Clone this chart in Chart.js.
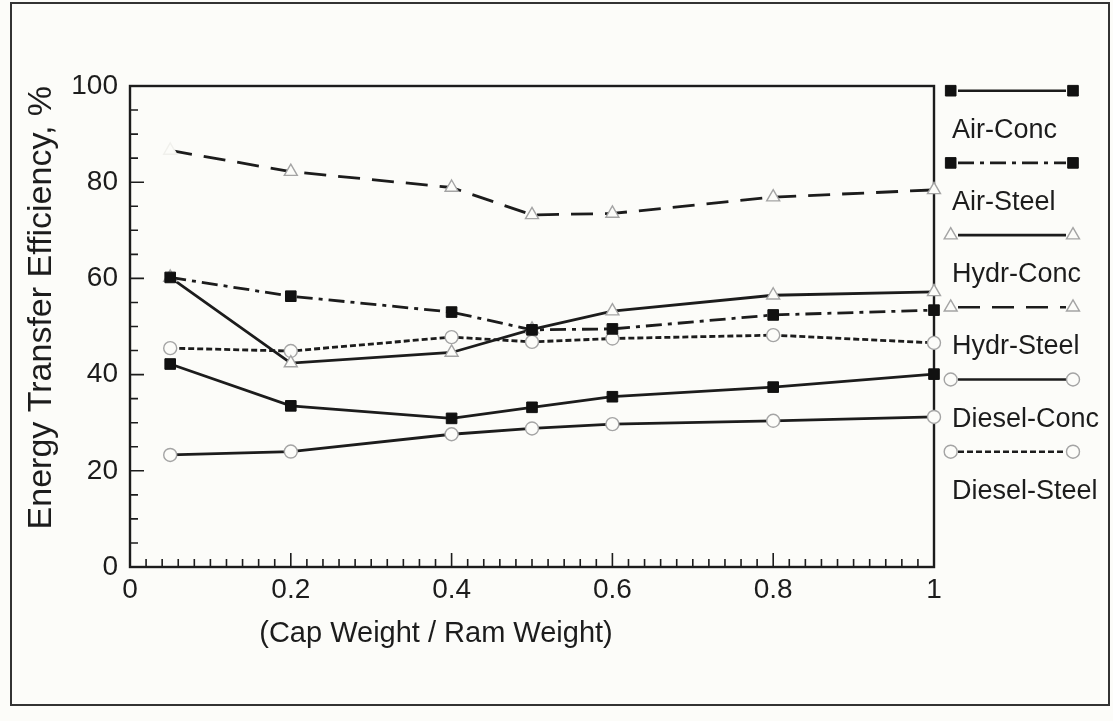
<!DOCTYPE html>
<html>
<head>
<meta charset="utf-8">
<script src="https://cdn.jsdelivr.net/npm/chart.js@4.4.1/dist/chart.umd.min.js"></script>
<style>
  html, body { margin: 0; padding: 0; background: #fcfcf9; }
  #wrap { position: relative; width: 1113px; height: 721px; }
  #frame { position: absolute; left: 10px; top: 2px; width: 1100px; height: 704px; border: 2px solid #333; box-sizing: border-box; pointer-events: none; }
</style>
</head>
<body>
<div id="wrap">
  <canvas id="effChart" width="1113" height="721"></canvas>
  <div id="frame"></div>
</div>
<script>
// cap weight / ram weight
const capRatio = [0.05, 0.2, 0.4, 0.5, 0.6, 0.8, 1.0];

// energy transfer efficiency, %
const airConc = [42.2, 33.5, 30.9, 33.2, 35.4, 37.4, 40.1];
const airSteel = [60.2, 56.3, 53.0, 49.3, 49.5, 52.4, 53.4];
const hydrConc = [60.2, 42.4, 44.6, 49.4, 53.2, 56.5, 57.2];
const hydrSteel = [86.6, 82.2, 78.9, 73.2, 73.5, 76.9, 78.4];
const dieselConc = [23.3, 24.0, 27.6, 28.8, 29.7, 30.4, 31.2];
const dieselSteel = [45.5, 44.9, 47.8, 46.8, 47.5, 48.2, 46.6];

const xTicks = [0, 0.2, 0.4, 0.6, 0.8, 1];
const yTicks = [0, 20, 40, 60, 80, 100];

const INK = '#1c1c1c';
const GREY = '#a4a4a4';
const BG = '#fcfcf9';
const FONT = '"Liberation Sans", Arial, sans-serif';

function toPoints(values) {
    return values.map((v, i) => ({ x: capRatio[i], y: v }));
}

function makeSeries(label, values, dash, marker) {
    const hollow = marker !== 'rect';
    return {
        label: label,
        data: toPoints(values),
        borderColor: INK,
        borderWidth: 2.8,
        borderDash: dash,
        tension: 0,
        clip: false,
        pointStyle: marker,
        pointRadius: marker === 'circle' ? 6.5 : 7.5,
        pointBorderWidth: hollow ? 1.4 : 1,
        pointBackgroundColor: hollow ? BG : '#111',
        pointBorderColor: hollow ? GREY : '#111',
        markerColor: hollow ? GREY : '#111'
    };
}

const datasets = [
    makeSeries('Air-Conc', airConc, [], 'rect'),
    makeSeries('Air-Steel', airSteel, [16, 6, 4, 6], 'rect'),
    makeSeries('Hydr-Conc', hydrConc, [], 'triangle'),
    makeSeries('Hydr-Steel', hydrSteel, [22, 12], 'triangle'),
    makeSeries('Diesel-Conc', dieselConc, [], 'circle'),
    makeSeries('Diesel-Steel', dieselSteel, [6, 3], 'circle')
];
// first hydr-steel marker is barely visible in the scan
datasets[3].pointBorderColor = hydrSteel.map((v, i) => i === 0 ? '#f0f0ec' : GREY);

const axisFrame = {
    id: 'axisFrame',
    beforeDatasetsDraw(chart) {
        const { ctx, chartArea: a, scales } = chart;
        ctx.save();
        ctx.strokeStyle = INK;
        ctx.lineWidth = 2.4;
        ctx.strokeRect(a.left, a.top, a.right - a.left, a.bottom - a.top);
        ctx.lineWidth = 1.6;
        ctx.beginPath();
        for (let v = 0; v <= 100; v += 5) {
            const y = scales.y.getPixelForValue(v);
            const len = v % 20 === 0 ? 14 : 8;
            ctx.moveTo(a.left, y);
            ctx.lineTo(a.left + len, y);
        }
        for (let k = 0; k <= 50; k++) {
            const x = scales.x.getPixelForValue(k * 0.02);
            const len = k % 10 === 0 ? 14 : 8;
            ctx.moveTo(x, a.bottom);
            ctx.lineTo(x, a.bottom - len);
        }
        ctx.stroke();
        ctx.restore();
    },
    afterDraw(chart) {
        const { ctx } = chart;
        ctx.save();
        // x axis title, placed as in the original figure
        ctx.fillStyle = INK;
        ctx.font = '29px ' + FONT;
        ctx.textAlign = 'center';
        ctx.textBaseline = 'middle';
        ctx.fillText('(Cap Weight / Ram Weight)', 436, 634);

        // legend: sample line with markers, label underneath
        chart.data.datasets.forEach((ds, i) => {
            const y0 = 90.7 + 72.2 * i;
            ctx.strokeStyle = INK;
            ctx.lineWidth = 2.6;
            ctx.setLineDash(ds.borderDash);
            ctx.beginPath();
            ctx.moveTo(958, y0);
            ctx.lineTo(1066, y0);
            ctx.stroke();
            ctx.setLineDash([]);
            [950.7, 1073].forEach(x => {
                ctx.fillStyle = ds.pointBackgroundColor;
                ctx.strokeStyle = ds.markerColor;
                ctx.lineWidth = ds.pointBorderWidth;
                Chart.helpers.drawPoint(ctx, {
                    pointStyle: ds.pointStyle,
                    radius: ds.pointRadius,
                    rotation: 0,
                    borderWidth: ds.pointBorderWidth
                }, x, y0);
            });
            ctx.fillStyle = INK;
            ctx.font = '27px ' + FONT;
            ctx.textAlign = 'left';
            ctx.textBaseline = 'alphabetic';
            ctx.fillText(ds.label, 952, y0 + 47);
        });
        ctx.restore();
    }
};

const ctx = document.getElementById('effChart').getContext('2d');
const effChart = new Chart(ctx, {
    type: 'line',
    data: { datasets: datasets },
    options: {
        responsive: false,
        animation: false,
        layout: { padding: { left: 0, top: 86, right: 179, bottom: 0 } },
        plugins: {
            legend: { display: false },
            tooltip: { enabled: false }
        },
        scales: {
            x: {
                type: 'linear',
                min: 0,
                max: 1,
                afterBuildTicks: scale => { scale.ticks = xTicks.map(v => ({ value: v })); },
                afterFit: scale => { scale.height = 154; },
                grid: { display: false, drawTicks: false },
                border: { display: false },
                ticks: {
                    color: INK,
                    font: { family: FONT, size: 28 },
                    padding: 6,
                    maxRotation: 0,
                    callback: value => String(value)
                }
            },
            y: {
                min: 0,
                max: 100,
                afterBuildTicks: scale => { scale.ticks = yTicks.map(v => ({ value: v })); },
                afterFit: scale => { scale.width = 130; },
                grid: { display: false, drawTicks: false },
                border: { display: false },
                ticks: { color: INK, font: { family: FONT, size: 28 }, padding: 12 },
                title: {
                    display: true,
                    text: 'Energy Transfer Efficiency, %',
                    color: INK,
                    font: { family: FONT, size: 34 },
                    align: 'end',
                    padding: { top: 21, bottom: 0 }
                }
            }
        }
    },
    plugins: [axisFrame]
});
</script>
</body>
</html>
